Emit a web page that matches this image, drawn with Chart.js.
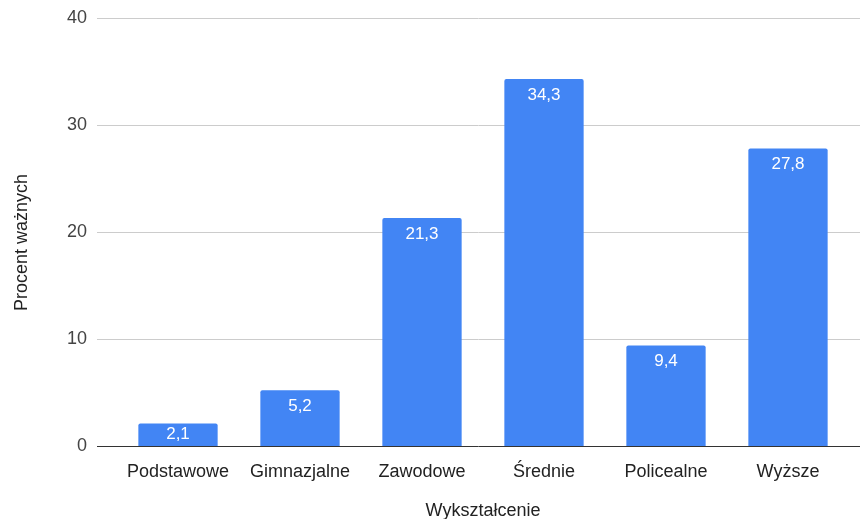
<!DOCTYPE html>
<html lang="pl">
<head>
<meta charset="UTF-8">
<title>Wykształcenie</title>
<script src="https://cdn.jsdelivr.net/npm/chart.js"></script>
<style>
  html, body { margin: 0; padding: 0; background: #fff; }
  #wrap { width: 860px; height: 519px; }
</style>
</head>
<body>
<div id="wrap"><canvas id="chart"></canvas></div>
<script>
const categories = ["Podstawowe", "Gimnazjalne", "Zawodowe", "Średnie", "Policealne", "Wyższe"];
const percentValues = [2.1, 5.2, 21.3, 34.3, 9.4, 27.8];
const yTicks = [0, 10, 20, 30, 40];

const FONT = "'Liberation Sans', Arial, sans-serif";

// grid lines drawn across the full width, like the original
const gridPlugin = {
    id: "fullGrid",
    beforeDatasetsDraw(chart) {
        const { ctx, scales: { y } } = chart;
        ctx.save();
        yTicks.forEach(t => {
            const py = Math.round(y.getPixelForValue(t)) + 0.5;
            ctx.strokeStyle = t === 0 ? "#333333" : "#cccccc";
            ctx.lineWidth = 1;
            ctx.beginPath();
            ctx.moveTo(97, py);
            ctx.lineTo(860, py);
            ctx.stroke();
        });
        ctx.restore();
    }
};

// y axis title, centred on the whole canvas height
const yTitle = {
    id: "yTitle",
    afterDraw(chart) {
        const { ctx } = chart;
        ctx.save();
        ctx.translate(22, chart.height / 2 - 17);
        ctx.rotate(-Math.PI / 2);
        ctx.fillStyle = "#222222";
        ctx.font = "18px " + FONT;
        ctx.textAlign = "center";
        ctx.textBaseline = "middle";
        ctx.fillText("Procent ważnych", 0, 0);
        ctx.restore();
    }
};

const valueLabels = {
    id: "valueLabels",
    afterDatasetsDraw(chart) {
        const { ctx } = chart;
        const meta = chart.getDatasetMeta(0);
        ctx.save();
        ctx.fillStyle = "#ffffff";
        ctx.font = "17px " + FONT;
        ctx.textAlign = "center";
        ctx.textBaseline = "middle";
        meta.data.forEach((bar, i) => {
            const txt = percentValues[i].toFixed(1).replace(".", ",");
            const h = bar.base - bar.y;
            ctx.fillText(txt, bar.x, bar.y + Math.min(16, h / 2));
        });
        ctx.restore();
    }
};

new Chart(document.getElementById("chart"), {
    type: "bar",
    data: {
        labels: categories,
        datasets: [{
            data: percentValues,
            backgroundColor: "#4285f4",
            borderRadius: { topLeft: 2, topRight: 2, bottomLeft: 0, bottomRight: 0 },
            borderSkipped: "bottom",
            barPercentage: 0.65,
            categoryPercentage: 1
        }]
    },
    options: {
        responsive: true,
        maintainAspectRatio: false,
        animation: false,
        layout: { padding: { top: 18, right: 11, left: 0, bottom: 0 } },
        plugins: { legend: { display: false }, tooltip: { enabled: false } },
        scales: {
            x: {
                grid: { display: false },
                border: { display: false },
                ticks: { color: "#222222", font: { family: FONT, size: 18 }, padding: 7 },
                title: { display: true, text: "Wykształcenie", color: "#222222", font: { family: FONT, size: 18 }, padding: { top: 18, bottom: -3 } },
                afterFit(scale) { scale.height = 73; }
            },
            y: {
                min: 0,
                max: 40,
                ticks: { stepSize: 10, color: "#444444", font: { family: FONT, size: 18 }, padding: 2 },
                grid: { display: false, drawTicks: true, tickLength: 28 },
                border: { display: false },
                title: { display: false },
                afterFit(scale) { scale.width = 117; }
            }
        }
    },
    plugins: [gridPlugin, valueLabels, yTitle]
});
</script>
</body>
</html>
